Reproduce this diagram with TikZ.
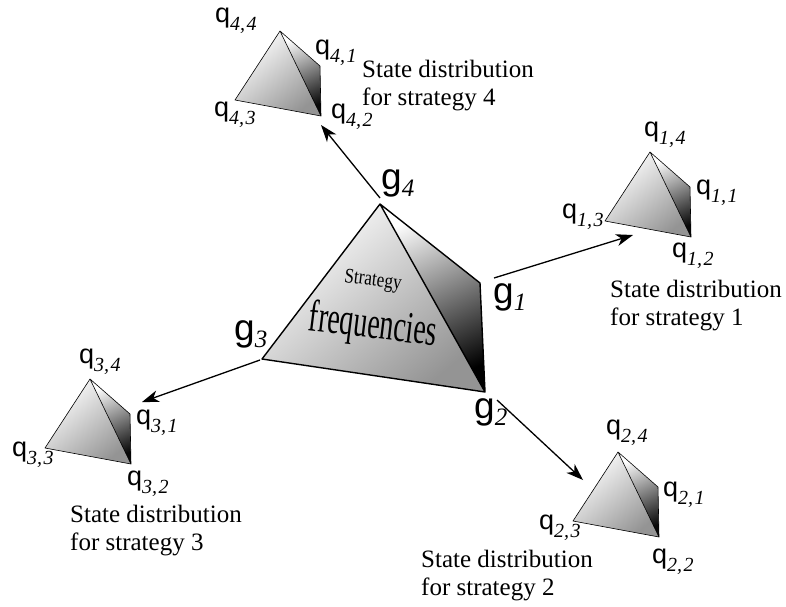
\documentclass[tikz,border=0pt]{standalone}
\usepackage{fontspec}
\setmainfont{Liberation Serif}
\newfontfamily\sansq{Liberation Sans}
\usetikzlibrary{arrows.meta}

\newcommand\qlab[2]{\raisebox{0pt}[15pt][6pt]{\fontsize{27}{27}\selectfont\sansq q}\raisebox{-8pt}[6pt][6pt]{\fontsize{20}{20}\selectfont\itshape #1,\kern1.5pt#2}}
\newcommand\glab[1]{{\fontsize{37}{37}\selectfont\sansq g}\raisebox{-7pt}{\fontsize{25}{25}\selectfont\itshape #1}}

\tikzset{
  arr/.style={line width=1.3pt, -{Stealth[length=17pt,width=12pt,inset=5pt]}},
  lab/.style={inner sep=0pt, anchor=base west},
  desc/.style={inner sep=0pt, anchor=north west, align=left, font=\fontsize{25}{28}\selectfont},
  frontshade/.style={top color=white, bottom color=black!42, shading angle=40},
  sideshade/.style={top color=white, bottom color=black!97, shading angle=25},
}

\newcommand\smalltetra[3]{%
  \begin{scope}[shift={(#2,#3)}]
    \coordinate (#1a) at (0,0);
    \coordinate (#1l) at (-45,69);
    \coordinate (#1b) at (41,85);
    \coordinate (#1r) at (40,35);
    \shade[frontshade] (#1a) -- (#1l) -- (#1b) -- cycle;
    \shade[sideshade] (#1a) -- (#1r) -- (#1b) -- cycle;
    \draw[line width=0.6pt, line join=round] (#1a) -- (#1l) -- (#1b) -- (#1r) -- cycle (#1a) -- (#1b);
  \end{scope}}

\begin{document}
\begin{tikzpicture}[x=1pt,y=-1pt]
\useasboundingbox (0,0) rectangle (786,606);
\fill[white] (0,0) rectangle (786,606);

% main tetrahedron
\coordinate (G4) at (380,204);
\coordinate (G3) at (262,359);
\coordinate (G2) at (485,392);
\coordinate (G1) at (480,283);
\shade[top color=white, bottom color=black!42, shading angle=40] (G4) -- (G3) -- (G2) -- cycle;
\shade[top color=white, bottom color=black, shading angle=25] (G4) -- (G1) -- (G2) -- cycle;
\draw[line width=1.4pt, line join=round] (G4) -- (G3) -- (G2) -- (G1) -- cycle (G4) -- (G2);

\node[rotate=-7, inner sep=0pt, font=\fontsize{21}{21}\selectfont, xscale=0.82] (strat) at (373,281) {Strategy};
\node[rotate=-7, inner sep=0pt, font=\fontsize{45}{45}\selectfont, xscale=0.62] (freq) at (373,327) {frequencies};

\node[lab] (g4) at (381,189) {\glab{4}};
\node[lab] (g1) at (493,303) {\glab{1}};
\node[lab] (g3) at (234,340) {\glab{3}};
\node[lab] (g2) at (474,418) {\glab{2}};

% small tetrahedra
\smalltetra{T4}{280}{31}
\smalltetra{T1}{650}{152}
\smalltetra{T3}{90}{379}
\smalltetra{T2}{618}{452}

\node[lab] (q44) at (215,22) {\qlab{4}{4}};
\node[lab] (q41) at (315,54) {\qlab{4}{1}};
\node[lab] (q43) at (214,116) {\qlab{4}{3}};
\node[lab] (q42) at (331,118) {\qlab{4}{2}};

\node[lab] (q14) at (644,136) {\qlab{1}{4}};
\node[lab] (q11) at (696,194) {\qlab{1}{1}};
\node[lab] (q13) at (562,218) {\qlab{1}{3}};
\node[lab] (q12) at (672,257) {\qlab{1}{2}};

\node[lab] (q34) at (79,363) {\qlab{3}{4}};
\node[lab] (q31) at (136,424) {\qlab{3}{1}};
\node[lab] (q33) at (12,456) {\qlab{3}{3}};
\node[lab] (q32) at (127,485) {\qlab{3}{2}};

\node[lab] (q24) at (606,434) {\qlab{2}{4}};
\node[lab] (q21) at (663,496) {\qlab{2}{1}};
\node[lab] (q23) at (539,529) {\qlab{2}{3}};
\node[lab] (q22) at (652,563) {\qlab{2}{2}};

% descriptions
\node[desc] (d4) at (362,60) {State distribution\\for strategy 4};
\node[desc] (d1) at (610,280) {State distribution\\for strategy 1};
\node[desc] (d3) at (70,505) {State distribution\\for strategy 3};
\node[desc] (d2) at (421,550) {State distribution\\for strategy 2};

% arrows
\coordinate (a4s) at (380,198);
\coordinate (a4e) at (321,125);
\coordinate (a1s) at (494,278);
\coordinate (a1e) at (633,235);
\coordinate (a3s) at (260,360);
\coordinate (a3e) at (142,402);
\coordinate (a2s) at (497,400);
\coordinate (a2e) at (583,480);
\draw[arr] (a4s) -- (a4e);
\draw[arr] (a1s) -- (a1e);
\draw[arr] (a3s) -- (a3e);
\draw[arr] (a2s) -- (a2e);
\end{tikzpicture}
\end{document}
